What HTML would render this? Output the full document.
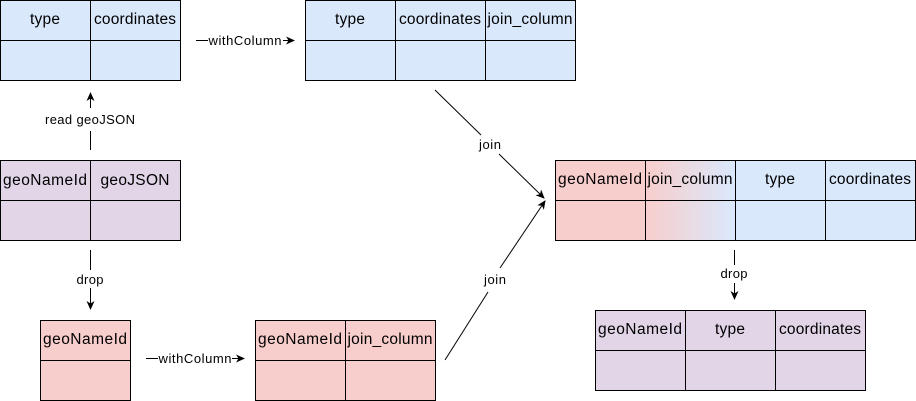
<!DOCTYPE html>
<html><head><meta charset="utf-8"><style>
html,body{margin:0;padding:0;background:#fff;}
svg{display:block;}
text{font-family:"Liberation Sans",Helvetica,Arial,sans-serif;font-size:15.5px;fill:#000;}
.s{font-size:13px;}
</style></head><body>
<svg width="916" height="401" viewBox="0 0 916 401" xmlns="http://www.w3.org/2000/svg">
<defs>
<linearGradient id="g" x1="0" x2="1" y1="0" y2="0">
<stop offset="0" stop-color="#f8cecc"/><stop offset="1" stop-color="#dae8fc"/>
</linearGradient>
<marker id="a" markerWidth="10" markerHeight="10" refX="8" refY="4" orient="auto" markerUnits="userSpaceOnUse">
<path d="M0,0 L9,4 L0,8 L2.5,4 Z" fill="#000"/>
</marker>
</defs>
<g stroke="#000" stroke-width="1">
<rect x="0.5" y="0.5" width="180" height="80" fill="#dae8fc"/>
<line x1="0.5" y1="40.5" x2="180.5" y2="40.5"/><line x1="90.5" y1="0.5" x2="90.5" y2="80.5"/>
<rect x="305.5" y="0.5" width="270" height="80" fill="#dae8fc"/>
<line x1="305.5" y1="40.5" x2="575.5" y2="40.5"/><line x1="395.5" y1="0.5" x2="395.5" y2="80.5"/><line x1="485.5" y1="0.5" x2="485.5" y2="80.5"/>
<rect x="0.5" y="160.5" width="180" height="80" fill="#e1d5e7"/>
<line x1="0.5" y1="200.5" x2="180.5" y2="200.5"/><line x1="90.5" y1="160.5" x2="90.5" y2="240.5"/>
<rect x="40.5" y="320.5" width="90" height="80" fill="#f8cecc"/>
<line x1="40.5" y1="360.5" x2="130.5" y2="360.5"/>
<rect x="255.5" y="320.5" width="180" height="80" fill="#f8cecc"/>
<line x1="255.5" y1="360.5" x2="435.5" y2="360.5"/><line x1="345.5" y1="320.5" x2="345.5" y2="400.5"/>
<rect x="555.5" y="160.5" width="90" height="80" fill="#f8cecc"/>
<rect x="645.5" y="160.5" width="90" height="80" fill="url(#g)"/>
<rect x="735.5" y="160.5" width="180" height="80" fill="#dae8fc"/>
<line x1="555.5" y1="200.5" x2="915.5" y2="200.5"/><line x1="645.5" y1="160.5" x2="645.5" y2="240.5"/><line x1="735.5" y1="160.5" x2="735.5" y2="240.5"/><line x1="825.5" y1="160.5" x2="825.5" y2="240.5"/>
<rect x="595.5" y="310.5" width="270" height="80" fill="#e1d5e7"/>
<line x1="595.5" y1="350.5" x2="865.5" y2="350.5"/><line x1="685.5" y1="310.5" x2="685.5" y2="390.5"/><line x1="775.5" y1="310.5" x2="775.5" y2="390.5"/>
<line x1="196" y1="40.5" x2="208" y2="40.5"/><line x1="283" y1="40.5" x2="294" y2="40.5" marker-end="url(#a)"/>
<line x1="90.5" y1="150" x2="90.5" y2="131"/><line x1="90.5" y1="108" x2="90.5" y2="93" marker-end="url(#a)"/>
<line x1="90.5" y1="250" x2="90.5" y2="270"/><line x1="90.5" y1="288" x2="90.5" y2="309" marker-end="url(#a)"/>
<line x1="146" y1="358.5" x2="158" y2="358.5"/><line x1="232" y1="358.5" x2="244" y2="358.5" marker-end="url(#a)"/>
<line x1="435" y1="90" x2="481" y2="135"/><line x1="499" y1="154" x2="544" y2="198" marker-end="url(#a)"/>
<line x1="445" y1="360" x2="488" y2="292"/><line x1="500" y1="268" x2="545" y2="201" marker-end="url(#a)"/>
<line x1="734.5" y1="250" x2="734.5" y2="265"/><line x1="734.5" y1="283" x2="734.5" y2="299" marker-end="url(#a)"/>
</g>
<g text-anchor="middle" lengthAdjust="spacingAndGlyphs">
<text x="45" y="24" textLength="30">type</text><text x="135" y="24" textLength="82">coordinates</text>
<text x="350" y="24" textLength="30">type</text><text x="440" y="24" textLength="82">coordinates</text><text x="530" y="24" textLength="85">join_column</text>
<text x="45" y="185" textLength="84">geoNameId</text><text x="135" y="185" textLength="69">geoJSON</text>
<text x="85" y="344" textLength="84">geoNameId</text>
<text x="300" y="344" textLength="84">geoNameId</text><text x="390" y="344" textLength="85">join_column</text>
<text x="600" y="184" textLength="84">geoNameId</text><text x="690" y="184" textLength="85">join_column</text><text x="780" y="184" textLength="30">type</text><text x="870" y="184" textLength="82">coordinates</text>
<text x="640" y="334" textLength="84">geoNameId</text><text x="730" y="334" textLength="30">type</text><text x="820" y="334" textLength="82">coordinates</text>
<text class="s" x="245" y="45" textLength="73">withColumn</text>
<text class="s" x="90" y="124" textLength="90">read geoJSON</text>
<text class="s" x="90" y="284" textLength="27">drop</text>
<text class="s" x="195" y="363" textLength="73">withColumn</text>
<text class="s" x="490" y="149" textLength="22">join</text>
<text class="s" x="495" y="284" textLength="22">join</text>
<text class="s" x="734" y="278" textLength="27">drop</text>
</g>
</svg>
</body></html>
